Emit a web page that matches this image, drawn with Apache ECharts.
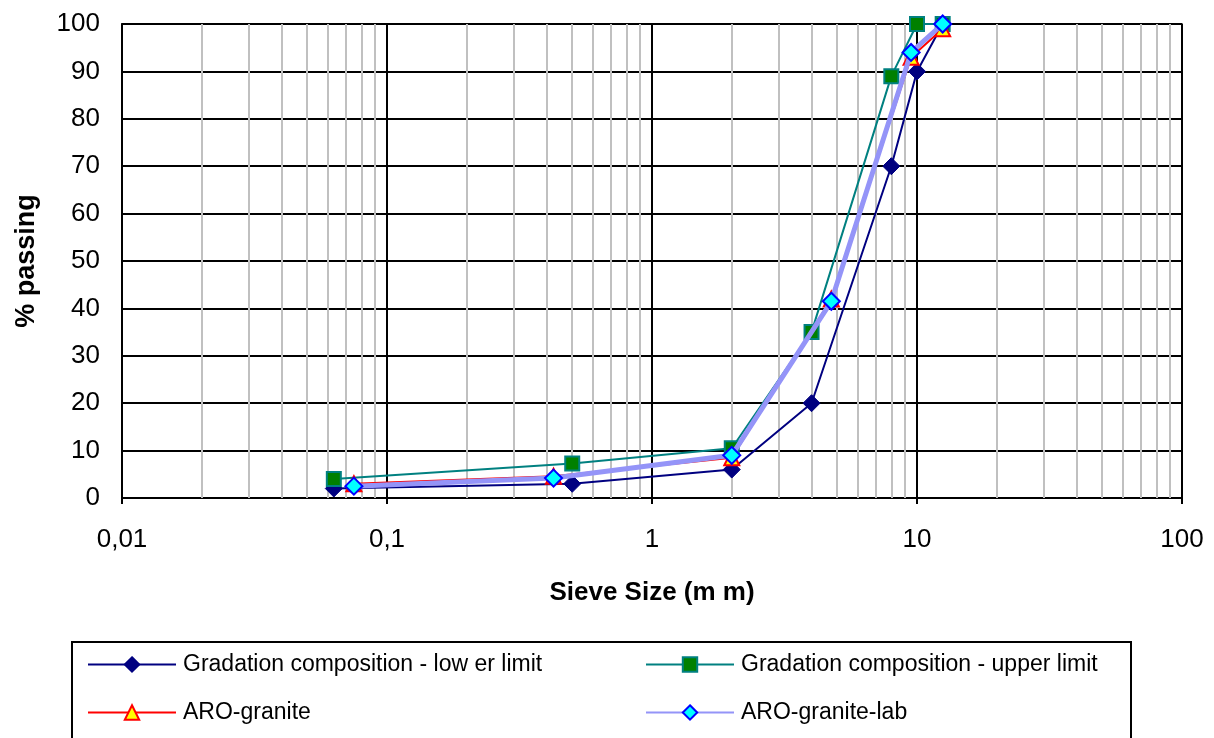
<!DOCTYPE html>
<html>
<head>
<meta charset="utf-8">
<script src="https://cdn.jsdelivr.net/npm/echarts@6/dist/echarts.min.js"></script>
<style>
html,body{margin:0;padding:0;background:#fff;}
#chart{width:1214px;height:738px;}
</style>
</head>
<body>
<div id="chart"></div>
<script>
// ---- data ----
var limitSizes = [0.063, 0.5, 2, 4, 8, 10, 12.5];
var lowerLimit = [2, 3, 6, 20, 70, 90, 100];
var upperLimit = [4, 7.3, 10.5, 35, 89, 100, 100];
var aroSizes = [0.075, 0.425, 2, 4.75, 9.5, 12.5];
var aroGranite = [3, 4.6, 8.5, 42, 93, 99];
var aroGraniteLab = [2.5, 4.2, 9, 41.5, 94, 100];
var seriesNames = ['Gradation composition - low er limit', 'Gradation composition - upper limit', 'ARO-granite', 'ARO-granite-lab'];
var xTickLabels = {'0.01': '0,01', '0.1': '0,1', '1': '1', '10': '10', '100': '100'};

function pairs(xs, ys) { return xs.map(function (x, i) { return [x, ys[i]]; }); }

// minor log grid positions (2..9 x decade)
var minorLines = [];
[0.01, 0.1, 1, 10].forEach(function (d) {
  for (var k = 2; k <= 9; k++) minorLines.push({ xAxis: +(d * k).toPrecision(3) });
});

var font = 'Liberation Sans, Arial, sans-serif';
var chart = echarts.init(document.getElementById('chart'));

var legendBase = {
  itemWidth: 88, itemHeight: 18, padding: 0,
  textStyle: { fontFamily: font, fontSize: 23, color: '#000', padding: [0, 0, 0, 2] },
  selectedMode: false
};
function mkLegend(name, left, top) {
  return Object.assign({}, legendBase, { data: [name], left: left, top: top });
}

chart.setOption({
  animation: false,
  backgroundColor: '#fff',
  textStyle: { fontFamily: font },
  grid: { left: 122, right: 32, top: 24, bottom: 240, show: true, borderColor: '#808080', borderWidth: 2 },
  xAxis: {
    type: 'log', logBase: 10, min: 0.01, max: 100,
    name: 'Sieve Size (m m)', nameLocation: 'middle', nameGap: 82,
    nameTextStyle: { fontFamily: font, fontSize: 26, fontWeight: 'bold', color: '#000' },
    axisLine: { lineStyle: { color: '#000', width: 2 } },
    axisTick: { show: true, length: 6, lineStyle: { color: '#000', width: 2 } },
    axisLabel: {
      margin: 29, fontFamily: font, fontSize: 26, color: '#000',
      formatter: function (v) { var s = String(+v.toPrecision(3)); return xTickLabels[s] || s.replace('.', ','); }
    },
    splitLine: { show: true, lineStyle: { color: '#000', width: 2 } }
  },
  yAxis: {
    type: 'value', min: 0, max: 100, interval: 10,
    name: '% passing', nameLocation: 'middle', nameGap: 82, nameRotate: 90,
    nameTextStyle: { fontFamily: font, fontSize: 27, fontWeight: 'bold', color: '#000' },
    axisLine: { show: true, lineStyle: { color: '#000', width: 2 } },
    axisTick: { show: false },
    axisLabel: { margin: 22, fontFamily: font, fontSize: 26, color: '#000' },
    splitLine: { show: true, lineStyle: { color: '#000', width: 2 } }
  },
  legend: [
    mkLegend(seriesNames[0], 87, 653),
    mkLegend(seriesNames[1], 645, 653),
    mkLegend(seriesNames[2], 87, 701),
    mkLegend(seriesNames[3], 645, 701)
  ],
  graphic: [{
    type: 'rect', left: 71, top: 641, z: -1,
    shape: { width: 1059, height: 110 },
    style: { fill: '#fff', stroke: '#000', lineWidth: 2 }
  }],
  series: [
    {
      type: 'line', name: 'minor', data: [], z: 1, silent: true,
      markLine: {
        z: 1, silent: true, symbol: 'none', label: { show: false },
        lineStyle: { color: '#c0c0c0', width: 2, type: 'solid' },
        data: minorLines, animation: false
      }
    },
    {
      type: 'line', name: seriesNames[0], data: pairs(limitSizes, lowerLimit), z: 3,
      symbol: 'diamond', symbolSize: 17,
      lineStyle: { color: '#000080', width: 2 },
      itemStyle: { color: '#000080', borderColor: '#000080', borderWidth: 1 }
    },
    {
      type: 'line', name: seriesNames[1], data: pairs(limitSizes, upperLimit), z: 3,
      symbol: 'rect', symbolSize: 14,
      lineStyle: { color: '#008080', width: 2 },
      itemStyle: { color: '#008000', borderColor: '#008080', borderWidth: 2 }
    },
    {
      type: 'line', name: seriesNames[2], data: pairs(aroSizes, aroGranite), z: 4,
      symbol: 'triangle', symbolSize: 15,
      lineStyle: { color: '#ff0000', width: 2 },
      itemStyle: { color: '#ffff00', borderColor: '#ff0000', borderWidth: 2 }
    },
    {
      type: 'line', name: seriesNames[3], data: pairs(aroSizes, aroGraniteLab), z: 5,
      symbol: 'diamond', symbolSize: 17,
      lineStyle: { color: '#9494f8', width: 5 },
      itemStyle: { color: '#00ffff', borderColor: '#0000ff', borderWidth: 2 }
    }
  ]
});
</script>
</body>
</html>
